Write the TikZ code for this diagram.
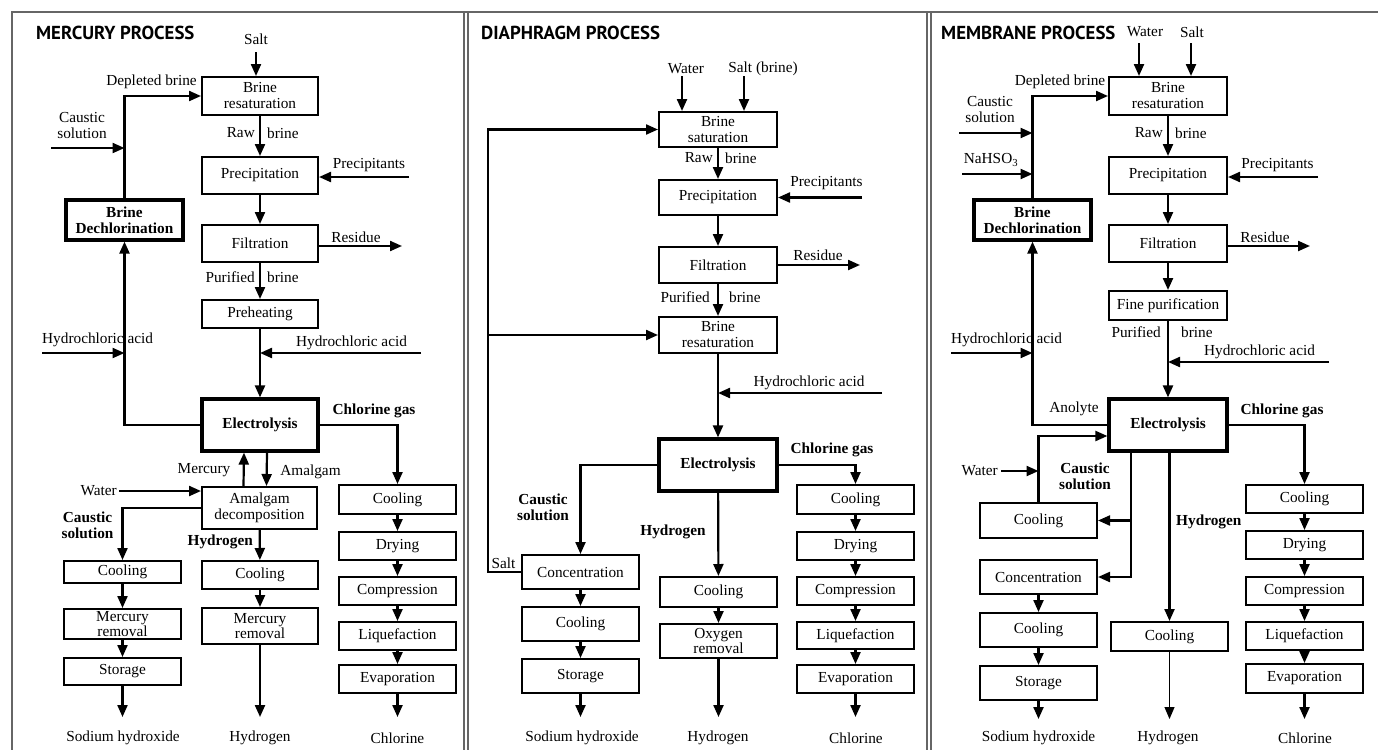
\documentclass[tikz,border=0pt]{standalone}
\usepackage{fontspec}
\setmainfont{Liberation Serif}
\newfontfamily\headfont{PT Sans}
\usetikzlibrary{arrows.meta}

% box given by its corners: [style] x1 y1 x2 y2 name text
\newcommand\procbox[7][]{%
  \node[box,#1,minimum width={(#4)-(#2)},minimum height={(#5)-(#3)}]
    (#6) at ({((#2)+(#4))/2},{((#3)+(#5))/2}) {#7};}

\tikzset{
  lbl/.style={font=\fontsize{15.3pt}{16pt}\selectfont, inner sep=0pt, align=center},
  blbl/.style={lbl, font=\fontsize{15.3pt}{16pt}\selectfont\bfseries},
  box/.style={draw, line width=2pt, inner sep=0pt, align=center,
              font=\fontsize{15.3pt}{16pt}\selectfont},
  tight/.style={font=\fontsize{15.3pt}{14.5pt}\selectfont},
  keybox/.style={box, line width=3.2pt, font=\fontsize{15.3pt}{16pt}\selectfont\bfseries},
  flow/.style={line width=2.2pt, -{Triangle[length=12pt,width=10pt]}},
  thinflow/.style={line width=1.1pt, -{Triangle[length=12pt,width=10pt]}},
  frame/.style={line width=1.6pt, draw=black!60},
  head/.style={font=\headfont\fontsize{18.8pt}{20pt}\bfseries\selectfont, inner sep=0pt, anchor=west},
}

\begin{document}
\begin{tikzpicture}[x=1pt,y=-1pt]
\useasboundingbox (0,0) rectangle (1378,750);

% ---------------- frame ----------------
\draw[frame] (1378,12) -- (12,12) -- (12,750);
\draw[frame] (464,12) -- (464,750);
\draw[frame] (468,12) -- (468,750);
\draw[frame] (927,12) -- (927,750);
\draw[frame] (931,12) -- (931,750);

% ================= MERCURY PROCESS =================
\node[head] (m-title) at (36,33) {MERCURY PROCESS};

\procbox{202}{77}{318}{115}{m-bres}{Brine\\resaturation}
\procbox{202}{157}{318}{194}{m-prec}{Precipitation}
\procbox{202}{225}{318}{262}{m-filt}{Filtration}
\procbox{202}{300}{318}{328}{m-preh}{Preheating}
\procbox[keybox]{202}{399}{318}{451}{m-elec}{Electrolysis}
\procbox[keybox]{66}{200}{183}{240}{m-bdc}{Brine\\Dechlorination}
\procbox{202}{487}{317}{529}{m-amal}{Amalgam\\decomposition}
\procbox{64}{561}{181}{583}{m-cool1}{Cooling}
\procbox[tight]{64}{609}{181}{639}{m-hgr1}{Mercury\\removal}
\procbox{64}{658}{181}{685}{m-stor}{Storage}
\procbox{202}{561}{318}{589}{m-cool2}{Cooling}
\procbox[tight]{202}{608}{318}{644}{m-hgr2}{Mercury\\removal}
\procbox{339}{485}{456}{514}{m-g1}{Cooling}
\procbox{339}{532}{456}{560}{m-g2}{Drying}
\procbox{339}{577}{456}{605}{m-g3}{Compression}
\procbox{339}{622}{456}{650}{m-g4}{Liquefaction}
\procbox{339}{665}{456}{693}{m-g5}{Evaporation}

\coordinate (m-salt) at (256,52);
\coordinate (m-pin) at (409,177);
\coordinate (m-res) at (402,246);
\coordinate (m-hcl) at (421,353);
\coordinate (m-hcl2) at (42,353);
\coordinate (m-caus) at (51,148);
\coordinate (m-wat) at (119,491);
\coordinate (m-out1) at (122.5,717);
\coordinate (m-out2) at (260,717);
\coordinate (m-out3) at (397.5,717);

\draw[flow] (m-salt) -- (m-salt |- m-bres.north);
\draw[flow] (m-bres) -- (m-prec);
\draw[flow] (m-pin) -- (m-pin -| m-prec.east);
\draw[flow] (m-prec) -- (m-filt);
\draw[flow] (m-res -| m-filt.east) -- (m-res);
\draw[flow] (m-filt) -- (m-preh);
\draw[flow] (m-preh) -- (m-elec);
\draw[flow] (m-hcl) -- (m-hcl -| m-preh.south);
\draw[flow] (m-elec.west) -| (m-bdc.south);
\draw[flow] (m-hcl2) -- (m-hcl2 -| m-bdc.south);
\draw[flow] (m-bdc.north) |- (m-bres.west);
\draw[flow] (m-caus) -- (m-caus -| m-bdc.north);
\draw[flow] (m-elec.east) -| (m-g1.north);
\draw[flow] ([xshift=-16pt]m-amal.north) -- ([xshift=-16pt]m-elec.south);
\draw[flow] ([xshift=7pt]m-elec.south) -- ([xshift=7pt]m-amal.north);
\draw[flow] (m-wat) -- (m-wat -| m-amal.west);
\draw[flow] (m-amal.west) -| (m-cool1.north);
\draw[flow] (m-amal) -- (m-cool2);
\draw[flow] (m-cool1) -- (m-hgr1);
\draw[flow] (m-hgr1) -- (m-stor);
\draw[flow] (m-stor.south) -- (m-out1);
\draw[flow] (m-cool2) -- (m-hgr2);
\draw[flow] (m-hgr2.south) -- (m-out2);
\draw[flow] (m-g1) -- (m-g2);
\draw[flow] (m-g2) -- (m-g3);
\draw[flow] (m-g3) -- (m-g4);
\draw[flow] (m-g4) -- (m-g5);
\draw[flow] (m-g5.south) -- (m-out3);

\node[lbl] (m-l1) at (256,39) {Salt};
\node[lbl] (m-l2) at (151.5,82) {Depleted brine};
\node[lbl] (m-l3) at (82,126) {Caustic\\solution};
\node[lbl,anchor=east] (m-l4) at (255,133) {Raw};
\node[lbl,anchor=west] (m-l5) at (267,133) {brine};
\node[lbl] (m-l6) at (369,165) {Precipitants};
\node[lbl] (m-l7) at (356,237) {Residue};
\node[lbl,anchor=east] (m-l8) at (255,277) {Purified};
\node[lbl,anchor=west] (m-l9) at (267,277) {brine};
\node[lbl] (m-l10) at (351.5,343) {Hydrochloric acid};
\node[lbl,anchor=west] (m-l11) at (42,340) {Hydrochloric acid};
\node[blbl] (m-l12) at (374,411) {Chlorine gas};
\node[lbl] (m-l13) at (204,470) {Mercury};
\node[lbl] (m-l14) at (310.5,472) {Amalgam};
\node[lbl,anchor=east] (m-l15) at (117,491) {Water};
\node[blbl] (m-l16) at (87.5,525.5) {Caustic\\solution};
\node[blbl,anchor=east] (m-l17) at (253,542) {Hydrogen};
\node[lbl] (m-l18) at (123,738) {Sodium hydroxide};
\node[lbl] (m-l19) at (260,738) {Hydrogen};
\node[lbl] (m-l20) at (397.5,738) {Chlorine};

% ================= DIAPHRAGM PROCESS =================
\node[head] (d-title) at (481,33) {DIAPHRAGM PROCESS};

\procbox{659}{112}{777}{147}{d-bsat}{Brine\\saturation}
\procbox{659}{180}{777}{215}{d-prec}{Precipitation}
\procbox{659}{247}{777}{283}{d-filt}{Filtration}
\procbox{659}{317}{777}{353}{d-bres}{Brine\\resaturation}
\procbox[keybox]{659}{439}{777}{491}{d-elec}{Electrolysis}
\procbox{522}{555}{639}{589}{d-conc}{Concentration}
\procbox{522}{607}{639}{641}{d-cool}{Cooling}
\procbox{522}{659}{639}{693}{d-stor}{Storage}
\procbox{660}{577}{777}{607}{d-cool2}{Cooling}
\procbox[tight]{660}{624}{777}{658}{d-oxy}{Oxygen\\removal}
\procbox{797}{485}{914}{514}{d-g1}{Cooling}
\procbox{797}{532}{914}{560}{d-g2}{Drying}
\procbox{797}{577}{914}{605}{d-g3}{Compression}
\procbox{797}{622}{914}{649}{d-g4}{Liquefaction}
\procbox{797}{665}{914}{693}{d-g5}{Evaporation}

\coordinate (d-wat) at (682,76);
\coordinate (d-salt) at (744,76);
\coordinate (d-pin) at (862,197.5);
\coordinate (d-res) at (860,265);
\coordinate (d-hcl) at (882,393);
\coordinate (d-loop) at (488,335);
\coordinate (d-out1) at (580.5,717);
\coordinate (d-out2) at (718.5,717);
\coordinate (d-out3) at (855.5,717);

\draw[flow] (d-wat) -- (d-wat |- d-bsat.north);
\draw[flow] (d-salt) -- (d-salt |- d-bsat.north);
\draw[flow] (d-bsat) -- (d-prec);
\draw[flow] (d-pin) -- (d-pin -| d-prec.east);
\draw[flow] (d-prec) -- (d-filt);
\draw[flow] (d-res -| d-filt.east) -- (d-res);
\draw[flow] (d-filt) -- (d-bres);
\draw[flow] (d-bres) -- (d-elec);
\draw[flow] (d-hcl) -- (d-hcl -| d-bres.south);
\draw[flow] (d-elec.west) -| (d-conc.north);
\draw[flow] (d-elec.east) -| (d-g1.north);
\draw[flow] (d-elec) -- (d-cool2);
\draw[flow] (d-conc.west) -| (d-loop) |- (d-bsat.west);
\draw[flow] (d-loop) -- (d-loop -| d-bres.west);
\draw[flow] (d-conc) -- (d-cool);
\draw[flow] (d-cool) -- (d-stor);
\draw[flow] (d-stor.south) -- (d-out1);
\draw[flow] (d-cool2) -- (d-oxy);
\draw[flow] (d-oxy.south) -- (d-out2);
\draw[flow] (d-g1) -- (d-g2);
\draw[flow] (d-g2) -- (d-g3);
\draw[flow] (d-g3) -- (d-g4);
\draw[flow] (d-g4) -- (d-g5);
\draw[flow] (d-g5.south) -- (d-out3);

\node[lbl] (d-l1) at (686,69) {Water};
\node[lbl] (d-l2) at (763,69) {Salt (brine)};
\node[lbl,anchor=east] (d-l3) at (713,158) {Raw};
\node[lbl,anchor=west] (d-l4) at (725,158) {brine};
\node[lbl] (d-l5) at (826.5,183) {Precipitants};
\node[lbl] (d-l6) at (818,255) {Residue};
\node[lbl,anchor=east] (d-l7) at (710,297) {Purified};
\node[lbl,anchor=west] (d-l8) at (729,297) {brine};
\node[lbl] (d-l9) at (809,383) {Hydrochloric acid};
\node[blbl] (d-l10) at (832,450) {Chlorine gas};
\node[blbl] (d-l11) at (543,507) {Caustic\\solution};
\node[blbl] (d-l12) at (673,532) {Hydrogen};
\node[lbl] (d-l13) at (503.5,563) {Salt};
\node[lbl] (d-l14) at (582,738) {Sodium hydroxide};
\node[lbl] (d-l15) at (718,738) {Hydrogen};
\node[lbl] (d-l16) at (856,738) {Chlorine};

% ================= MEMBRANE PROCESS =================
\node[head] (n-title) at (941,33) {MEMBRANE PROCESS};

\procbox{1109}{77}{1227}{115}{n-bres}{Brine\\resaturation}
\procbox{1109}{157}{1227}{194}{n-prec}{Precipitation}
\procbox{1109}{225}{1227}{262}{n-filt}{Filtration}
\procbox{1109}{291}{1227}{320}{n-fine}{Fine purification}
\procbox[keybox]{1109}{399}{1227}{451}{n-elec}{Electrolysis}
\procbox[keybox]{974}{200}{1091}{240}{n-bdc}{Brine\\Dechlorination}
\procbox{980}{503}{1097}{538}{n-cool1}{Cooling}
\procbox{980}{560}{1097}{594}{n-conc}{Concentration}
\procbox{980}{613}{1097}{647}{n-cool2}{Cooling}
\procbox{980}{666}{1097}{700}{n-stor}{Storage}
\procbox{1111}{622}{1228}{651}{n-cool3}{Cooling}
\procbox{1246}{485}{1363}{513}{n-g1}{Cooling}
\procbox{1246}{531}{1363}{559}{n-g2}{Drying}
\procbox{1246}{577}{1363}{605}{n-g3}{Compression}
\procbox{1246}{622}{1363}{650}{n-g4}{Liquefaction}
\procbox{1246}{664}{1363}{693}{n-g5}{Evaporation}

\coordinate (n-wat) at (1139,43);
\coordinate (n-salt) at (1191,43);
\coordinate (n-pin) at (1318,177);
\coordinate (n-res) at (1310,246);
\coordinate (n-hcl) at (1329,362);
\coordinate (n-caus) at (959,133);
\coordinate (n-bis) at (962,174);
\coordinate (n-hcl2) at (951,353);
\coordinate (n-wat2) at (1001,471);
\coordinate (n-cs) at (1131,520.5);
\coordinate (n-out1) at (1038.5,719);
\coordinate (n-out2) at (1169.5,719);
\coordinate (n-out3) at (1304.5,719);

\draw[flow] (n-wat) -- (n-wat |- n-bres.north);
\draw[flow] (n-salt) -- (n-salt |- n-bres.north);
\draw[flow] (n-bres) -- (n-prec);
\draw[flow] (n-pin) -- (n-pin -| n-prec.east);
\draw[flow] (n-prec) -- (n-filt);
\draw[flow] (n-res -| n-filt.east) -- (n-res);
\draw[flow] (n-filt) -- (n-fine);
\draw[flow] (n-fine) -- (n-elec);
\draw[flow] (n-hcl) -- (n-hcl -| n-fine.south);
\draw[flow] (n-bdc.north) |- (n-bres.west);
\draw[flow] (n-caus) -- (n-caus -| n-bdc.north);
\draw[flow] (n-bis) -- (n-bis -| n-bdc.north);
\draw[flow] (n-hcl2) -- (n-hcl2 -| n-bdc.south);
\draw[flow] (n-elec.west) -| (n-bdc.south);
\draw[flow] (n-cool1.north) |- ([yshift=-11pt]n-elec.west);
\draw[flow] (n-wat2) -- (n-wat2 -| n-cool1.north);
\draw[flow] (n-elec.south -| n-cs) |- (n-conc.east);
\draw[flow] (n-cs) -- (n-cool1.east);
\draw[flow] (n-elec.south -| n-cool3.north) -- (n-cool3.north);
\draw[thinflow] (n-cool3.south) -- (n-out2);
\draw[flow] (n-elec.east) -| (n-g1.north);
\draw[flow] (n-conc) -- (n-cool2);
\draw[flow] (n-cool2) -- (n-stor);
\draw[flow] (n-stor.south) -- (n-out1);
\draw[flow] (n-g1) -- (n-g2);
\draw[flow] (n-g2) -- (n-g3);
\draw[flow] (n-g3) -- (n-g4);
\draw[flow] (n-g4) -- (n-g5);
\draw[flow] (n-g5.south) -- (n-out3);

\node[lbl] (n-l1) at (1145,32) {Water};
\node[lbl] (n-l2) at (1192,32) {Salt};
\node[lbl] (n-l3) at (1060,82) {Depleted brine};
\node[lbl] (n-l4) at (990,110) {Caustic\\solution};
\node[lbl] (n-l5) at (991,160) {NaHSO\textsubscript{3}};
\node[lbl,anchor=east] (n-l6) at (1163,133) {Raw};
\node[lbl,anchor=west] (n-l7) at (1175,133) {brine};
\node[lbl] (n-l8) at (1277.5,165) {Precipitants};
\node[lbl] (n-l9) at (1265,237) {Residue};
\node[lbl,anchor=east] (n-l10) at (1161,332) {Purified};
\node[lbl,anchor=west] (n-l11) at (1181,332) {brine};
\node[lbl] (n-l12) at (1259.5,352) {Hydrochloric acid};
\node[lbl,anchor=west] (n-l13) at (951,340) {Hydrochloric acid};
\node[lbl] (n-l14) at (1074,409) {Anolyte};
\node[blbl] (n-l15) at (1282,411) {Chlorine gas};
\node[lbl,anchor=east] (n-l16) at (998,471) {Water};
\node[blbl] (n-l17) at (1085,476) {Caustic\\solution};
\node[blbl,anchor=west] (n-l18) at (1176,522) {Hydrogen};
\node[lbl] (n-l19) at (1038.5,738) {Sodium hydroxide};
\node[lbl] (n-l20) at (1168,738) {Hydrogen};
\node[lbl] (n-l21) at (1305,738) {Chlorine};
\end{tikzpicture}
\end{document}
